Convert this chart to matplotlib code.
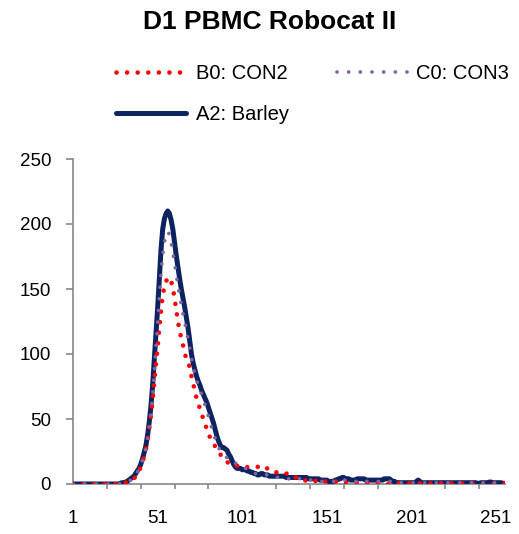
import matplotlib
matplotlib.use("Agg")
import matplotlib.pyplot as plt
import numpy as np

plt.rcParams['font.family'] = ['Liberation Sans', 'DejaVu Sans']

# ---- data (category index 1..256) ----
categories = list(range(1, 257))

a2_barley = (
    [0] * 28 +
    [0.5, 1, 1, 1.5, 2, 3, 4, 5, 6, 8, 10] +
    [12, 15, 19, 24, 29, 37, 47, 59, 75, 95, 115] +
    [135, 158, 180, 196, 204, 208, 210, 208, 203, 196] +
    [186, 176, 167, 158, 150, 143, 136, 128, 120, 110] +
    [100, 93, 88, 83, 79, 76, 72, 69, 66, 63] +
    [59, 55, 51, 47, 42, 37, 33, 30, 28, 28] +
    [27, 26, 23, 21, 18, 15, 13, 12, 12, 12] +
    [11, 11, 11, 10, 10, 9, 9, 8, 8, 7] +
    [7, 8, 8, 7, 7, 7, 6, 6, 6, 6] +
    [6, 6, 6, 6, 6, 6, 5, 5, 5, 5] +
    [5, 5, 5, 5, 5, 5, 5, 5, 5, 4] +
    [4, 4, 4, 4, 4, 4, 3, 3, 3, 3] +
    [3, 2, 2, 2, 2, 3, 3, 4, 4, 5] +
    [5, 4, 4, 4, 3, 3, 3, 3, 4, 4] +
    [4, 4, 4, 3, 3, 3, 3, 3, 3, 3] +
    [3, 3, 3, 3, 4, 4, 4, 4, 3, 2] +
    [2, 1, 1, 1, 1, 1, 1, 1, 1, 1] +
    [1, 1, 1, 2, 3, 2, 1, 1, 1, 1] +
    [1, 1, 1, 1, 1, 1, 1, 1, 1, 1] +
    [1, 1, 1, 1, 1, 1, 1, 1, 1, 1] +
    [1, 1, 1, 1, 1, 1, 1, 1, 1, 0.5] +
    [0.5, 1, 1, 1, 1, 1, 1.5, 1.5, 1, 1] +
    [1, 1, 1, 1, 0.5, 0.5]
)

c0_con3 = (
    [0] * 28 +
    [0.5, 1, 1, 1, 2, 2, 3, 4, 5, 7, 9] +
    [11, 14, 18, 22, 27, 34, 43, 54, 68, 85, 104] +
    [122, 143, 162, 176, 186, 192, 194, 192, 186, 178] +
    [170, 161, 153, 145, 138, 131, 125, 118, 111, 104] +
    [97, 90, 85, 80, 76, 72, 69, 65, 61, 57] +
    [52, 48, 43, 39, 35, 31, 28, 26, 25, 24] +
    [22, 20, 18, 17, 16, 16, 16, 15, 15, 15] +
    [14, 13, 12, 11, 10, 9, 9, 8, 8, 8] +
    [8, 8, 7, 7, 7, 7, 6, 6, 6, 6] +
    [6, 5, 5, 5, 5, 4, 4, 4, 4, 4] +
    [5, 5, 5, 5, 4, 4, 4, 4, 3, 3] +
    [3, 3, 3, 3, 3, 2, 2, 2, 2, 2] +
    [2, 2, 2, 2, 2, 2, 3, 3, 3, 3] +
    [3, 3, 3, 2, 2, 2, 2, 2, 2, 3] +
    [3, 3, 3, 2, 2, 2, 2, 2, 2, 2] +
    [2, 2, 2, 2, 2, 2, 2, 2, 2, 1] +
    [1, 1, 1, 1, 1, 1, 1, 1, 1, 1] +
    [1, 1, 1, 1, 1, 1, 1, 1, 1, 1] +
    [1, 1, 1, 1, 1, 1, 1, 1, 1, 1] +
    [1, 1, 1, 1, 1, 1, 1, 1, 1, 1] +
    [1, 1, 1, 1, 1, 1, 1, 1, 1, 1] +
    [1, 1, 1, 1, 1, 1, 1, 1, 1, 1] +
    [1, 1, 1, 1, 1, 1]
)

b0_con2 = (
    [0] * 28 +
    [0, 0.5, 1, 1, 1.5, 2, 3, 3, 4, 6, 8] +
    [10, 13, 17, 21, 26, 33, 42, 52, 64, 78, 92] +
    [105, 120, 133, 145, 152, 156, 158, 159, 156, 151] +
    [143, 134, 125, 118, 112, 107, 101, 96, 93, 90] +
    [83, 77, 72, 66, 62, 58, 54, 50, 47, 42] +
    [38, 36, 33, 31, 29, 27, 25, 23, 21, 19] +
    [18, 17, 16, 15, 15, 14, 14, 14, 14, 14] +
    [13, 13, 13, 13, 13, 13, 13, 13, 13, 13] +
    [14, 14, 13, 12, 12, 12, 12, 11, 10, 10] +
    [9, 9, 9, 9, 8, 8, 8, 8, 8, 7] +
    [6, 5, 5, 4, 4, 4, 3, 3, 2, 2] +
    [2, 2, 2, 2, 3, 3, 3, 3, 3, 2] +
    [2, 2, 2, 2, 2, 2, 2, 2, 2, 2] +
    [2, 1, 1, 1, 1, 1, 1, 1, 1, 1] +
    [1, 1, 1, 1, 1, 1, 1, 1, 1, 1] +
    [1, 0.5, 0.5, 0, 0, 0, 0, 0, 0.5, 0.5] +
    [0.5, 0.5, 0.5, 0.5, 0.5, 0.5, 0.5, 0.5, 0.5, 0.5] +
    [0.5, 0.5, 0.5, 0.5, 0.5, 0.5, 0.5, 0.5, 0.5, 0.5] +
    [0.5, 0.5, 0.5, 0.5, 0.5, 0.5, 0.5, 0.5, 0.5, 0.5] +
    [0.5, 0.5, 0.5, 0.5, 0.5, 0.5, 0.5, 0.5, 0.5, 0.5] +
    [0.5, 0.5, 0.5, 0.5, 1, 1, 0.5, 0.5, 0.5, 0.5] +
    [0.5, 0.5, 0.5, 0.5, 0.5, 0.5, 0.5, 0.5, 0.5, 0.5] +
    [0.5, 0.5, 0.5, 0.5, 0.5, 0.5]
)

series_labels = ["B0: CON2", "C0: CON3", "A2: Barley"]
x_tick_labels = [1, 51, 101, 151, 201, 251]
y_ticks = [0, 50, 100, 150, 200, 250]
title = "D1 PBMC Robocat II"

# ---- figure ----
W, H = 519, 534
fig = plt.figure(figsize=(W / 100, H / 100), dpi=100)
ax = fig.add_axes([73 / W, 1 - 484 / H, (504.5 - 73) / W, (484 - 159) / H])

axis_gray = "#868686"

l_a2, = ax.plot(categories, a2_barley, color="#0b2361", lw=3.6,
                solid_capstyle="round", solid_joinstyle="round", zorder=3)
l_b0, = ax.plot(categories, b0_con2, color="#ff0000", lw=3.3,
                linestyle=(0, (0.01, 2.3)), dash_capstyle="round", zorder=4)
l_c0, = ax.plot(categories, c0_con3, color="#8064a2", lw=2.7,
                linestyle=(0, (0.01, 3.1)), dash_capstyle="round", zorder=5)

ax.set_xlim(1, 256)
ax.set_ylim(0, 250)

for s in ["top", "right"]:
    ax.spines[s].set_visible(False)
for s in ["left", "bottom"]:
    ax.spines[s].set_color(axis_gray)
    ax.spines[s].set_linewidth(1.2)

ax.set_yticks(y_ticks)
ax.set_yticklabels([str(v) for v in y_ticks])
ax.tick_params(axis="y", which="major", direction="out", length=4.8, width=1.2,
               color=axis_gray, labelsize=13.5, pad=11)

ax.set_xticks(x_tick_labels)
ax.set_xticklabels([str(v) for v in x_tick_labels])
ax.set_xticks(list(range(1, 257, 20)), minor=True)
ax.tick_params(axis="x", which="major", length=0, labelsize=13.5, pad=19)
ax.tick_params(axis="x", which="minor", direction="out", length=3.8, width=1.2,
               color=axis_gray)

fig.text(270 / W, 1 - 22 / H, title, ha="center", va="center",
         fontsize=19, fontweight="bold")

leg = fig.legend([l_b0, l_a2, l_c0],
                 [series_labels[0], series_labels[2], series_labels[1]],
                 ncol=2, loc="upper left",
                 bbox_to_anchor=(116 / W, 1 - 64 / H),
                 frameon=False, fontsize=14.5, handlelength=3.5,
                 handletextpad=0.45, columnspacing=2.4, labelspacing=1.1,
                 borderpad=0, borderaxespad=0)

fig.savefig("out.png", dpi=100)
